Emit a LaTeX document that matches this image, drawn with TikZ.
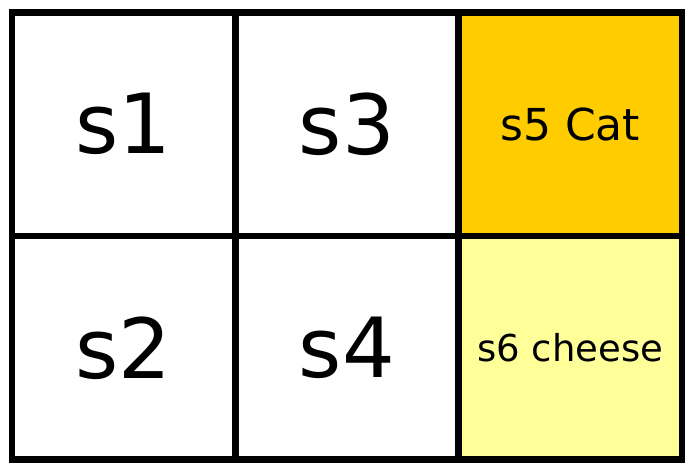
\documentclass[tikz,border=0pt]{standalone}
\usepackage{fontspec}
\setmainfont{DejaVu Sans}
\definecolor{catorange}{HTML}{FFCC00}
\definecolor{cheeseyellow}{HTML}{FFFF99}
\begin{document}
\begin{tikzpicture}[x=1pt,y=-1pt,
  cell/.style={draw=black,line width=6.5pt,rectangle,minimum width=223.3pt,minimum height=223.5pt,inner sep=0pt,anchor=center},
  big/.style={font=\fontsize{83}{100}\selectfont},
  mid/.style={font=\fontsize{44}{53}\selectfont},
  small/.style={font=\fontsize{37}{44}\selectfont}]
\useasboundingbox (0,0) rectangle (698,474);
\node[cell,big,fill=white] (s1) at (123.7,124.2) {s1};
\node[cell,big,fill=white] (s2) at (123.7,347.8) {s2};
\node[cell,big,fill=white] (s3) at (347.0,124.2) {s3};
\node[cell,big,fill=white] (s4) at (347.0,347.8) {s4};
\node[cell,mid,fill=catorange] (s5) at (570.3,124.2) {s5 Cat};
\node[cell,small,fill=cheeseyellow] (s6) at (570.3,347.8) {s6 cheese};
\end{tikzpicture}
\end{document}
